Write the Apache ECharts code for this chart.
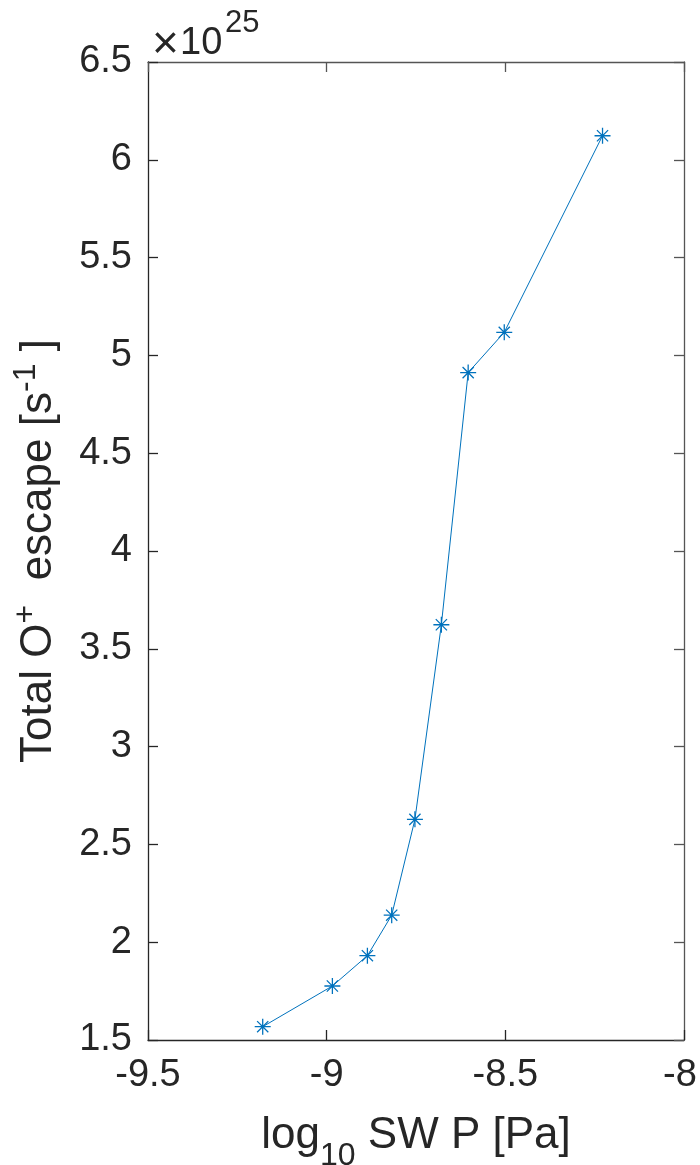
<!DOCTYPE html>
<html>
<head>
<meta charset="utf-8">
<script src="https://cdn.jsdelivr.net/npm/echarts@6/dist/echarts.min.js"></script>
<style>
  html, body { margin: 0; padding: 0; background: #fff; }
  #chart { width: 700px; height: 1165px; }
</style>
</head>
<body>
<div id="chart"></div>
<script>
// Total O+ escape rate versus solar-wind dynamic pressure
const swPressureLog10 = [-9.179, -8.984, -8.886, -8.818, -8.753, -8.679, -8.604, -8.503, -8.228];
const escapeScaled = [1.568, 1.776, 1.931, 2.138, 2.628, 3.623, 4.912, 5.118, 6.123]; // ×10^25 s^-1
const escapeExponent = '25';
const xTicks = { min: -9.5, max: -8, step: 0.5 };
const yTicks = { min: 1.5, max: 6.5, step: 0.5 };

const FONT = '"Liberation Sans", Arial, Helvetica, sans-serif';
const INK = '#262626';
const LINE = '#0072BD';

// asterisk marker built from four filled strokes (same winding so overlaps stay filled)
const ASTERISK = 'path://M0 46L100 46L100 54L0 54Z' +
  'M46 0L54 0L54 100L46 100Z' +
  'M17.83 12.17L87.83 82.17L82.17 87.83L12.17 17.83Z' +
  'M82.17 12.17L87.83 17.83L17.83 87.83L12.17 82.17Z';

const points = swPressureLog10.map((x, i) => [x, escapeScaled[i]]);

const chart = echarts.init(document.getElementById('chart'), null, { renderer: 'canvas' });

const baseX = { type: 'value', min: xTicks.min, max: xTicks.max, interval: xTicks.step, splitLine: { show: false } };
const baseY = { type: 'value', min: yTicks.min, max: yTicks.max, interval: yTicks.step, splitLine: { show: false } };

chart.setOption({
  animation: false,
  backgroundColor: '#ffffff',
  grid: { left: 148, top: 62, width: 536, height: 978, containLabel: false, outerBoundsMode: 'none' },
  xAxis: [
    Object.assign({}, baseX, {
      position: 'bottom',
      axisLine: { show: true, onZero: false, lineStyle: { color: INK, width: 1.3 } },
      axisTick: { show: true, inside: true, length: 10, lineStyle: { color: INK, width: 1.3 } },
      axisLabel: {
        show: true, margin: 17, color: INK, fontSize: 38, fontFamily: FONT,
        formatter: v => (v === xTicks.max ? '{edge|' + v + '}' : String(v)),
        rich: { edge: { fontSize: 38, fontFamily: FONT, color: INK, padding: [0, 8, 0, 0] } }
      },
      name: '{t|log}{sub|10}{t| SW P [Pa]}',
      nameLocation: 'middle',
      nameGap: 61,
      nameTextStyle: {
        color: INK, fontFamily: FONT,
        rich: {
          t: { fontSize: 44, fontFamily: FONT, color: INK, lineHeight: 50 },
          sub: { fontSize: 32, fontFamily: FONT, color: INK, lineHeight: 50, padding: [40, 0, 0, 0] }
        }
      }
    }),
    Object.assign({}, baseX, {
      position: 'top',
      axisLine: { show: true, onZero: false, lineStyle: { color: '#555', width: 1.3 } },
      axisTick: { show: true, inside: true, length: 10, lineStyle: { color: '#555', width: 1.3 } },
      axisLabel: { show: false }
    })
  ],
  yAxis: [
    Object.assign({}, baseY, {
      position: 'left',
      axisLine: { show: true, onZero: false, lineStyle: { color: INK, width: 1.3 } },
      axisTick: { show: true, inside: true, length: 10, lineStyle: { color: INK, width: 1.3 } },
      axisLabel: { show: true, margin: 16, color: INK, fontSize: 38, fontFamily: FONT },
      name: '{t|Total O}{sup|+}{t|  escape [s}{sup|-1}{t| ]}',
      nameLocation: 'middle',
      nameRotate: 90,
      nameGap: 80,
      nameTextStyle: {
        color: INK, fontFamily: FONT,
        rich: {
          t: { fontSize: 44, fontFamily: FONT, color: INK, lineHeight: 50 },
          sup: { fontSize: 32, fontFamily: FONT, color: INK, lineHeight: 50, padding: [0, 0, 26, 0] }
        }
      }
    }),
    Object.assign({}, baseY, {
      position: 'right',
      axisLine: { show: true, onZero: false, lineStyle: { color: '#555', width: 1.3 } },
      axisTick: { show: true, inside: true, length: 10, lineStyle: { color: '#555', width: 1.3 } },
      axisLabel: { show: false }
    })
  ],
  graphic: [
    {
      type: 'text', left: 152, top: 22,
      style: { text: '×', fontSize: 46, fontFamily: FONT, fill: INK }
    },
    {
      type: 'text', left: 180, top: 25,
      style: { text: '10', fontSize: 38, fontFamily: FONT, fill: INK }
    },
    {
      type: 'text', left: 225, top: 8,
      style: { text: escapeExponent, fontSize: 31, fontFamily: FONT, fill: INK }
    }
  ],
  series: [{
    type: 'line',
    data: points,
    xAxisIndex: 0,
    yAxisIndex: 0,
    symbol: ASTERISK,
    symbolSize: 16,
    showAllSymbol: true,
    lineStyle: { color: LINE, width: 1 },
    itemStyle: { color: LINE, borderWidth: 0 },
    emphasis: { disabled: true }
  }]
});
</script>
</body>
</html>
